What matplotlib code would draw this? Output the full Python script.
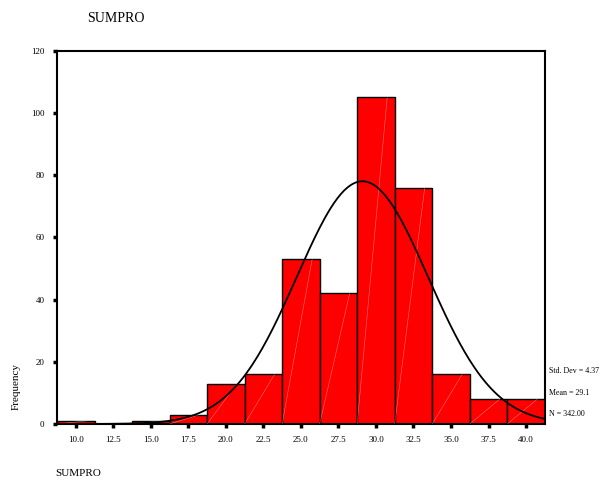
import numpy as np
import matplotlib
matplotlib.use("Agg")
import matplotlib.pyplot as plt

# histogram of SUMPRO, bins of width 2.5
bin_centers = [10.0, 12.5, 15.0, 17.5, 20.0, 22.5, 25.0, 27.5, 30.0, 32.5, 35.0, 37.5, 40.0]
counts = [1, 0, 1, 3, 13, 16, 53, 42, 105, 76, 16, 8, 8]
bin_width = 2.5

# summary stats printed next to the chart
std_dev = 4.37
mean = 29.1
n_total = 342.00

y_ticks = [0, 20, 40, 60, 80, 100, 120]
x_tick_labels = ["10.0", "12.5", "15.0", "17.5", "20.0", "22.5", "25.0",
                 "27.5", "30.0", "32.5", "35.0", "37.5", "40.0"]

plt.rcParams["font.family"] = ["Liberation Serif", "DejaVu Serif"]

fig = plt.figure(figsize=(6.0, 4.84), dpi=100)
ax = fig.add_axes([0.095, 0.124, 0.813, 0.771])

ax.bar(bin_centers, counts, width=bin_width, color="#ff0000",
       edgecolor="black", linewidth=1.0, zorder=2)

# faint diagonal streaks inside the bars, like the original export
for c, h in zip(bin_centers, counts):
    if h > 0:
        ax.plot([c - bin_width / 2, c + bin_width / 2 * 0.6], [0, h],
                color="white", lw=0.4, alpha=0.45, zorder=3)

# normal curve fitted from the printed mean / sd / N
xs = np.linspace(bin_centers[0] - bin_width / 2, bin_centers[-1] + bin_width / 2, 300)
pdf = np.exp(-0.5 * ((xs - mean) / std_dev) ** 2) / (std_dev * np.sqrt(2 * np.pi))
ax.plot(xs, n_total * bin_width * pdf, color="black", lw=1.3, zorder=4)

ax.set_xlim(bin_centers[0] - bin_width / 2, bin_centers[-1] + bin_width / 2)
ax.set_ylim(0, 120)
ax.set_yticks(y_ticks)
ax.set_yticklabels([str(v) for v in y_ticks], fontsize=6.5)
ax.set_xticks(bin_centers)
ax.set_xticklabels(x_tick_labels, fontsize=6.5)
ax.tick_params(axis="both", length=3, width=2.5, color="black", pad=6)

for s in ax.spines.values():
    s.set_linewidth(1.5)
    s.set_color("black")

ax.set_ylabel("Frequency", fontsize=8, labelpad=12)
ax.yaxis.set_label_coords(-0.075, 0.1)

fig.text(0.193, 0.962, "SUMPRO", fontsize=10, ha="center", va="center")
fig.text(0.092, 0.013, "SUMPRO", fontsize=8, ha="left", va="bottom")

fig.text(0.915, 0.234, "Std. Dev = 4.37", fontsize=5.7, ha="left", va="center")
fig.text(0.915, 0.188, "Mean = 29.1", fontsize=5.7, ha="left", va="center")
fig.text(0.915, 0.145, "N = 342.00", fontsize=5.7, ha="left", va="center")

fig.savefig("out.png", dpi=100)
